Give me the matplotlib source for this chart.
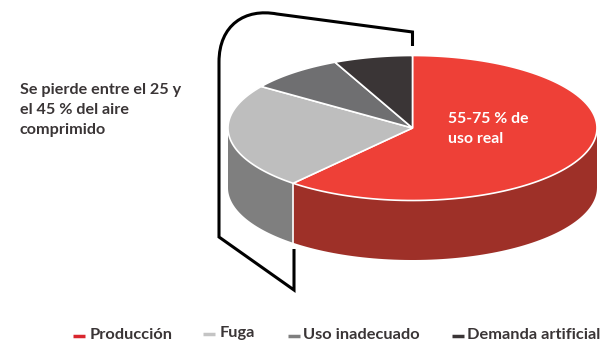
import numpy as np
import matplotlib
matplotlib.use('Agg')
import matplotlib.pyplot as plt
from matplotlib.patches import PathPatch
from matplotlib.path import Path

plt.rcParams['font.family'] = ['Lato', 'DejaVu Sans']

categories = ['Producción', 'Fuga', 'Uso inadecuado', 'Demanda artificial']
values = [61.2, 23.5, 8.4, 6.9]
colors = ['#EE4037', '#BEBEBE', '#6F6F71', '#3A3536']
side_colors = ['#9E3028', '#7F7F7F', '#6F6F71', '#3A3536']
legend_colors = ['#D9262E', '#C4C4C4', '#7F7F7F', '#3A3536']
legend_x = [73, 203, 288, 452]
legend_y = [335, 333, 335, 335]
legend_text_x = [90, 220, 303, 467]

cx, cy, rx, ry, depth = 412.5, 128, 184.5, 72.5, 59.5

fig = plt.figure(figsize=(6.14, 3.57), dpi=100)
ax = fig.add_axes([0, 0, 1, 1])
ax.set_xlim(0, 614)
ax.set_ylim(357, 0)
ax.axis('off')

# angles go clockwise from 12 o'clock, same as the slices
edges = 90 - np.cumsum([0] + values) * 3.6


def ell(a, dy=0):
    a = np.radians(a)
    return cx + rx * np.cos(a), cy - ry * np.sin(a) + dy


# side wall, only the front half shows
for i in range(len(values)):
    a0, a1 = edges[i], edges[i + 1]
    lo, hi = max(a1, -180), min(a0, 0)
    if lo >= hi:
        continue
    t = np.linspace(lo, hi, 80)
    x, y = ell(t)
    x2, y2 = ell(t[::-1], depth)
    ax.fill(np.r_[x, x2], np.r_[y, y2], color=side_colors[i], lw=0, zorder=1)
x, y = ell(edges[1])
ax.plot([x, x], [y, y + depth], color='white', lw=1.2, zorder=2)

# top of the pie
for i in range(len(values)):
    t = np.linspace(edges[i], edges[i + 1], 120)
    x, y = ell(t)
    ax.fill(np.r_[cx, x], np.r_[cy, y], color=colors[i], ec='white', lw=1.2, zorder=3)

# bracket
verts = [(412.5, 46), (412.5, 32), (277, 14), (245, 8), (219, 25), (219, 62),
         (219, 237), (294, 290), (294, 249)]
codes = [Path.MOVETO, Path.LINETO, Path.LINETO, Path.CURVE4, Path.CURVE4, Path.CURVE4,
         Path.LINETO, Path.LINETO, Path.LINETO]
ax.add_patch(PathPatch(Path(verts, codes), fc='none', ec='black', lw=2.2, joinstyle='miter', zorder=4))

ax.text(20, 90, 'Se pierde entre el 25 y', fontsize=11.6, fontweight='bold', color='#3A3536', va='center')
ax.text(20, 110, 'el 45 % del aire', fontsize=11.6, fontweight='bold', color='#3A3536', va='center')
ax.text(20, 130, 'comprimido', fontsize=11.6, fontweight='bold', color='#3A3536', va='center')
ax.text(448, 119, '55-75 % de', fontsize=11.3, fontweight='bold', color='white', va='center', zorder=5)
ax.text(448, 139, 'uso real', fontsize=11.3, fontweight='bold', color='white', va='center', zorder=5)

# legend by hand, the entries are not evenly spaced
for i in range(len(categories)):
    ax.plot([legend_x[i], legend_x[i] + 12], [legend_y[i] + 1] * 2, color=legend_colors[i], lw=2.5, solid_capstyle='butt')
    ax.text(legend_text_x[i], legend_y[i], categories[i], fontsize=11.8, fontweight='bold', color='#3A3536', va='center')

fig.savefig('out.png', dpi=100)
